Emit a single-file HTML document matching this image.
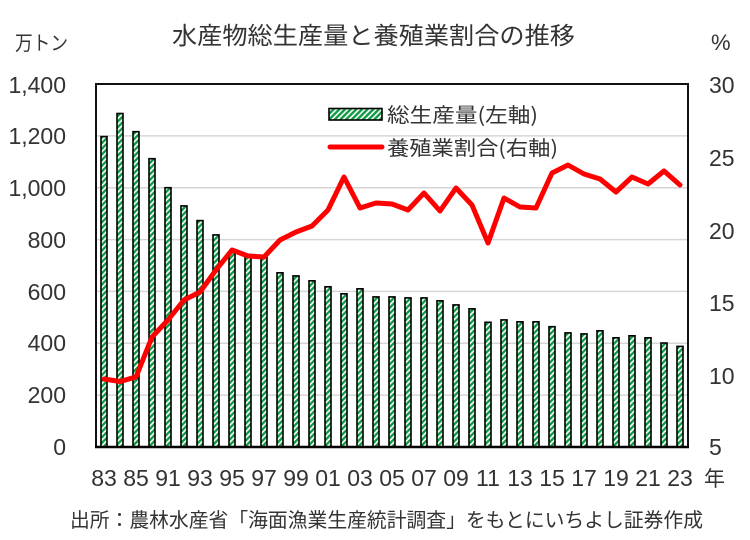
<!DOCTYPE html>
<html><head><meta charset="utf-8">
<style>
html,body{margin:0;padding:0;background:#fff;}
svg{display:block;}
text{font-family:"Liberation Sans","Noto Sans CJK JP",sans-serif;fill:#333333;}
.cj{font-family:"Noto Sans CJK JP","Liberation Sans",sans-serif;}
</style></head>
<body>
<svg width="750" height="540" viewBox="0 0 750 540" xmlns="http://www.w3.org/2000/svg">
<defs>
<pattern id="h" patternUnits="userSpaceOnUse" width="4" height="4" patternTransform="rotate(45)">
<rect width="4" height="4" fill="#ffffff"/>
<rect width="2.4" height="4" fill="#0f9a44"/>
</pattern>
</defs>
<rect width="750" height="540" fill="#fff"/>

<!-- title -->
<text class="cj" x="172" y="44" font-size="24" textLength="403" lengthAdjust="spacingAndGlyphs">水産物総生産量と養殖業割合の推移</text>
<text class="cj" x="15" y="50" font-size="20" textLength="53" lengthAdjust="spacingAndGlyphs">万トン</text>
<text x="711" y="50" font-size="22">%</text>

<!-- gridlines -->
<g stroke="#d6d6d6" stroke-width="1.5">
<line x1="96" x2="688" y1="135.9" y2="135.9"/>
<line x1="96" x2="688" y1="187.7" y2="187.7"/>
<line x1="96" x2="688" y1="239.6" y2="239.6"/>
<line x1="96" x2="688" y1="291.4" y2="291.4"/>
<line x1="96" x2="688" y1="343.3" y2="343.3"/>
<line x1="96" x2="688" y1="395.1" y2="395.1"/>
</g>

<!-- left ticks -->
<g font-size="23" text-anchor="end">
<text x="66" y="93">1,400</text>
<text x="66" y="144">1,200</text>
<text x="66" y="196">1,000</text>
<text x="66" y="248">800</text>
<text x="66" y="300">600</text>
<text x="66" y="351">400</text>
<text x="66" y="403">200</text>
<text x="66" y="455">0</text>
</g>
<!-- right ticks -->
<g font-size="23">
<text x="709" y="93">30</text>
<text x="709" y="166">25</text>
<text x="709" y="239">20</text>
<text x="709" y="311">15</text>
<text x="709" y="384">10</text>
<text x="709" y="455">5</text>
</g>

<!-- bars -->
<g fill="url(#h)" stroke="#000" stroke-width="1.6">
<rect x="101" y="136.6" width="6" height="310.4"/>
<rect x="117" y="113.5" width="6" height="333.5"/>
<rect x="133" y="131.7" width="6" height="315.3"/>
<rect x="149" y="158.7" width="6" height="288.3"/>
<rect x="165" y="187.7" width="6" height="259.3"/>
<rect x="181" y="205.9" width="6" height="241.1"/>
<rect x="197" y="220.6" width="6" height="226.4"/>
<rect x="213" y="234.9" width="6" height="212.1"/>
<rect x="229" y="252.5" width="6" height="194.5"/>
<rect x="245" y="254.6" width="6" height="192.4"/>
<rect x="261" y="255.6" width="6" height="191.4"/>
<rect x="277" y="272.8" width="6" height="174.2"/>
<rect x="293" y="275.9" width="6" height="171.1"/>
<rect x="309" y="280.8" width="6" height="166.2"/>
<rect x="325" y="286.8" width="6" height="160.2"/>
<rect x="341" y="293.8" width="6" height="153.2"/>
<rect x="357" y="288.8" width="6" height="158.2"/>
<rect x="373" y="296.9" width="6" height="150.1"/>
<rect x="389" y="296.9" width="6" height="150.1"/>
<rect x="405" y="297.9" width="6" height="149.1"/>
<rect x="421" y="297.9" width="6" height="149.1"/>
<rect x="437" y="300.8" width="6" height="146.2"/>
<rect x="453" y="304.9" width="6" height="142.1"/>
<rect x="469" y="308.8" width="6" height="138.2"/>
<rect x="485" y="322.3" width="6" height="124.7"/>
<rect x="501" y="319.9" width="6" height="127.1"/>
<rect x="517" y="321.8" width="6" height="125.2"/>
<rect x="533" y="321.8" width="6" height="125.2"/>
<rect x="549" y="326.7" width="6" height="120.3"/>
<rect x="565" y="332.9" width="6" height="114.1"/>
<rect x="581" y="333.9" width="6" height="113.1"/>
<rect x="597" y="330.8" width="6" height="116.2"/>
<rect x="613" y="337.8" width="6" height="109.2"/>
<rect x="629" y="335.8" width="6" height="111.2"/>
<rect x="645" y="337.8" width="6" height="109.2"/>
<rect x="661" y="343.0" width="6" height="104.0"/>
<rect x="677" y="346.4" width="6" height="100.6"/>
</g>

<!-- line -->
<polyline fill="none" stroke="#ff0000" stroke-width="5" stroke-linejoin="round" stroke-linecap="round"
points="104,379 120,381.5 136,377 152,337 168,320 184,300 200,292 216,270 232,250 248,256 264,257 280,240 296,232 312,226 328,210 344,177 360,208 376,203 392,204 408,210 424,193 440,211 456,188 472,205 488,243 504,198 520,207 536,208 552,173 568,165 584,174 600,179 616,192 632,177 648,184 664,171 680,185"/>

<!-- plot border -->
<rect x="96" y="84" width="592" height="363" fill="none" stroke="#111" stroke-width="2"/>
<line x1="95" x2="689" y1="447" y2="447" stroke="#000" stroke-width="2.5"/>

<!-- legend -->
<rect x="329" y="108.5" width="53" height="11.5" fill="url(#h)" stroke="#000" stroke-width="1.6"/>
<text class="cj" x="387" y="122" font-size="20" textLength="151" lengthAdjust="spacingAndGlyphs">総生産量(左軸)</text>
<line x1="330" x2="382" y1="147" y2="147" stroke="#ff0000" stroke-width="5" stroke-linecap="round"/>
<text class="cj" x="387" y="155" font-size="20" textLength="171" lengthAdjust="spacingAndGlyphs">養殖業割合(右軸)</text>

<!-- x labels -->
<g font-size="23" text-anchor="middle">
<text x="104" y="486">83</text>
<text x="136" y="486">85</text>
<text x="168" y="486">91</text>
<text x="200" y="486">93</text>
<text x="232" y="486">95</text>
<text x="264" y="486">97</text>
<text x="296" y="486">99</text>
<text x="328" y="486">01</text>
<text x="360" y="486">03</text>
<text x="392" y="486">05</text>
<text x="424" y="486">07</text>
<text x="456" y="486">09</text>
<text x="488" y="486">11</text>
<text x="520" y="486">13</text>
<text x="552" y="486">15</text>
<text x="584" y="486">17</text>
<text x="616" y="486">19</text>
<text x="648" y="486">21</text>
<text x="680" y="486">23</text>
</g>
<text class="cj" x="704" y="486" font-size="21">年</text>

<!-- footer -->
<text class="cj" x="70" y="527" font-size="20" textLength="633" lengthAdjust="spacingAndGlyphs">出所：農林水産省「海面漁業生産統計調査」をもとにいちよし証券作成</text>
</svg>
</body></html>
